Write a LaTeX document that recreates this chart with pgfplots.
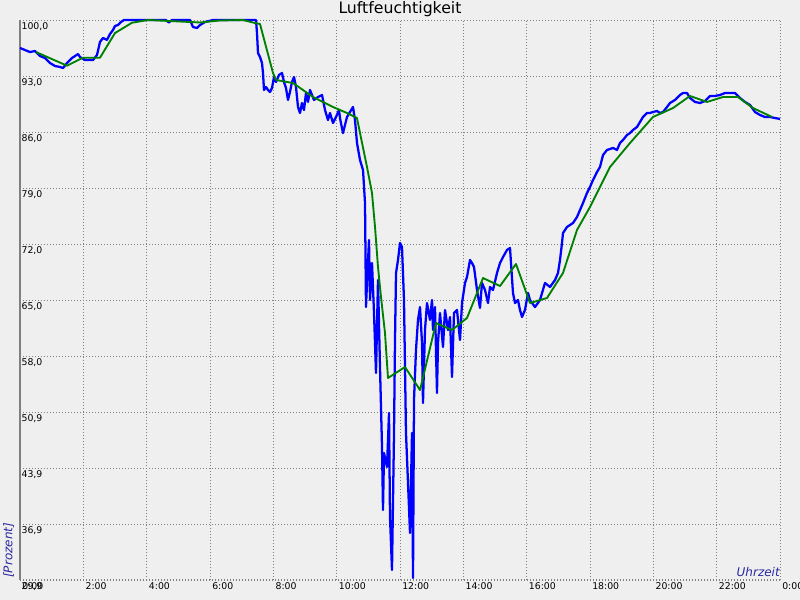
\documentclass[border=0pt]{standalone}
\usepackage{fontspec}
\setmainfont{DejaVu Sans}
\usepackage{pgfplots}
\usepackage{pgfplotstable}
\pgfplotsset{compat=1.18}
\definecolor{bg}{HTML}{EFEFEF}
\definecolor{lblue}{RGB}{40,40,160}
\definecolor{gridgray}{HTML}{808080}
\definecolor{lgreen}{HTML}{008000}
\definecolor{lineblue}{HTML}{0000FF}
\pgfplotstableread{
t v
0.000 96.50
0.158 96.24
0.316 95.99
0.474 96.12
0.632 95.49
0.789 95.24
0.947 94.62
1.105 94.24
1.263 94.12
1.358 93.99
1.484 94.62
1.642 95.24
1.832 95.74
1.895 95.37
2.053 94.99
2.305 94.99
2.432 95.62
2.526 97.25
2.621 97.75
2.747 97.50
2.842 98.25
2.937 98.75
3.000 99.25
3.095 99.37
3.189 99.75
3.284 100.00
4.600 100.00
4.700 99.70
4.800 100.00
5.368 100.00
5.463 99.12
5.589 99.00
5.684 99.37
5.842 99.75
6.095 100.00
7.453 100.00
7.484 98.37
7.516 95.87
7.579 95.37
7.642 94.62
7.674 93.37
7.705 91.24
7.768 91.61
7.832 91.24
7.895 90.99
7.958 91.49
8.021 92.86
8.084 92.24
8.179 93.12
8.274 93.37
8.337 92.24
8.400 91.49
8.463 89.99
8.526 90.99
8.589 92.24
8.653 92.86
8.716 91.61
8.779 89.11
8.842 88.36
8.905 89.61
8.968 88.73
9.032 90.86
9.095 89.74
9.158 91.24
9.284 89.99
9.411 90.36
9.537 90.61
9.632 88.73
9.726 87.48
9.789 88.36
9.884 87.11
9.979 87.86
10.074 88.73
10.105 87.73
10.200 85.85
10.326 87.86
10.421 88.48
10.516 89.11
10.579 87.48
10.642 84.60
10.737 82.47
10.832 81.22
10.895 77.09
10.926 64.07
10.958 67.08
11.021 72.46
11.053 64.95
11.116 69.58
11.179 63.32
11.242 55.81
11.305 67.45
11.368 56.56
11.432 46.55
11.463 38.66
11.495 45.80
11.589 44.04
11.653 50.80
11.684 37.79
11.747 31.15
11.811 48.30
11.842 59.94
11.874 68.33
11.937 69.96
12.000 72.09
12.063 71.58
12.126 64.95
12.189 48.30
12.253 42.04
12.316 35.78
12.379 48.30
12.411 30.15
12.442 52.43
12.505 58.69
12.568 62.45
12.632 64.07
12.695 59.57
12.726 52.06
12.789 61.19
12.853 64.57
12.947 62.45
13.011 64.95
13.042 61.19
13.105 64.07
13.168 53.31
13.200 59.57
13.263 63.32
13.358 59.07
13.421 63.70
13.516 61.19
13.579 62.82
13.642 55.31
13.705 63.32
13.800 63.70
13.895 59.94
13.958 64.57
14.053 67.08
14.116 67.83
14.211 69.96
14.274 69.58
14.337 69.08
14.432 66.20
14.526 63.95
14.589 67.08
14.684 66.20
14.779 64.57
14.842 66.58
14.937 66.20
15.063 68.33
15.158 69.58
15.253 70.33
15.379 71.21
15.474 71.46
15.568 65.83
15.632 64.57
15.726 64.95
15.789 63.70
15.853 62.82
15.947 63.70
16.042 65.83
16.105 64.95
16.263 64.07
16.421 64.95
16.579 67.08
16.737 66.58
16.895 67.45
16.989 68.33
17.053 69.96
17.116 72.09
17.147 73.34
17.274 74.09
17.463 74.59
17.589 75.34
17.684 76.22
17.779 77.09
17.905 78.34
18.000 79.10
18.095 79.97
18.221 80.97
18.316 81.60
18.411 83.10
18.537 83.73
18.726 83.98
18.853 83.73
18.947 84.60
19.042 84.98
19.168 85.60
19.263 85.85
19.358 86.23
19.484 86.61
19.579 87.23
19.674 87.86
19.800 88.36
19.895 88.36
19.989 88.48
20.116 88.61
20.211 88.36
20.305 88.48
20.432 89.11
20.526 89.61
20.684 89.99
20.842 90.61
20.937 90.86
21.063 90.86
21.158 90.24
21.316 89.74
21.474 89.61
21.632 89.86
21.789 90.49
21.947 90.49
22.105 90.61
22.263 90.86
22.421 90.86
22.579 90.86
22.737 90.24
22.895 89.74
23.053 89.36
23.211 88.48
23.368 88.11
23.526 87.86
23.684 87.86
23.842 87.73
24.000 87.61
}\bluedata
\pgfplotstableread{
t v
0.505 95.99
1.484 94.28
1.989 95.28
2.526 95.28
3.000 98.37
3.537 99.66
4.042 100.00
4.737 99.87
5.684 99.69
6.316 99.94
7.042 100.00
7.421 99.62
7.579 99.50
7.989 93.37
8.084 92.49
8.621 92.11
9.253 90.36
9.884 89.11
10.326 88.36
10.642 87.73
10.737 85.85
10.958 81.60
11.116 78.34
11.211 74.09
11.305 69.08
11.400 65.33
11.526 60.82
11.621 55.19
12.158 56.56
12.632 53.68
13.137 62.07
13.642 61.19
14.116 62.70
14.621 67.70
15.158 66.70
15.663 69.46
16.105 64.57
16.642 65.20
17.147 68.33
17.589 73.71
18.000 76.59
18.632 81.60
19.263 84.60
19.989 87.86
20.621 88.98
21.158 90.49
21.695 89.74
22.200 90.36
22.674 90.36
23.147 88.98
23.747 87.86
}\greendata
\begin{document}
\begin{tikzpicture}
\path[use as bounding box, fill=bg] (0,0) rectangle (600pt,450pt);
\begin{axis}[
  at={(15pt,15pt)}, anchor=south west,
  scale only axis, width=570pt, height=420pt,
  xmin=0, xmax=24, ymin=29.9, ymax=100,
  clip=false,
  axis line style={draw=none},
  major tick length=0pt,
  xtick={0,2,...,24},
  xticklabels={0:00,2:00,4:00,6:00,8:00,10:00,12:00,14:00,16:00,18:00,20:00,22:00,0:00},
  ytick={29.9,36.91,43.92,50.93,57.94,64.95,71.96,78.97,85.98,92.99,100},
  yticklabels={{29,9},{36,9},{43,9},{50,9},{58,0},{65,0},{72,0},{79,0},{86,0},{93,0},{100,0}},
  xticklabel style={anchor=north west, inner sep=0pt, xshift=1.5pt, yshift=-1.5pt, font=\fontsize{7}{8}\selectfont},
  yticklabel style={anchor=north west, inner sep=0pt, xshift=1pt, yshift=-1.5pt, font=\fontsize{7}{8}\selectfont},
  grid=major,
  major grid style={gridgray, line width=0.75pt, dash pattern=on 0.75pt off 1.5pt},
]
\draw[gridgray, line width=1.5pt] (axis cs:0,29.9) -- (axis cs:0,100);
\addplot[lineblue, line width=1.7pt, line join=round] table[x=t,y=v] {\bluedata};
\addplot[lgreen, line width=1.4pt, line join=round] table[x=t,y=v] {\greendata};
\end{axis}
\node[anchor=base, inner sep=0pt, font=\fontsize{11.8}{14}\selectfont] at (300pt,440pt) {Luftfeuchtigkeit};
\node[anchor=west, rotate=90, inner sep=0pt, text=lblue, font=\fontsize{9}{11}\selectfont\itshape] at (6.5pt,16.5pt) {[Prozent]};
\node[anchor=base east, inner sep=0pt, text=lblue, font=\fontsize{9}{11}\selectfont\itshape] at (585pt,17.25pt) {Uhrzeit};
\end{tikzpicture}
\end{document}
